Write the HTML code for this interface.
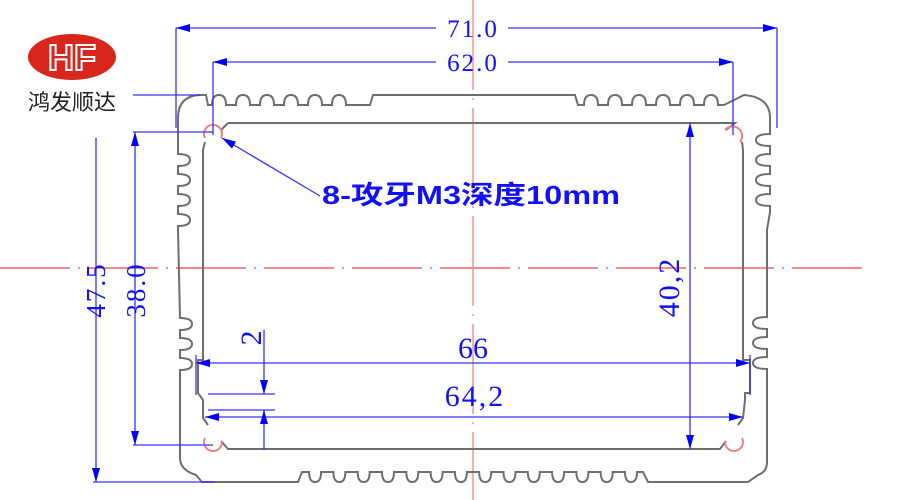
<!DOCTYPE html>
<html><head><meta charset="utf-8"><style>
html,body{margin:0;padding:0;background:#fff;}
svg{display:block;}
</style></head><body>
<svg width="900" height="500" viewBox="0 0 900 500" xmlns="http://www.w3.org/2000/svg">
<defs>
<marker id="a" markerWidth="14" markerHeight="8" refX="14" refY="4" orient="auto-start-reverse" markerUnits="userSpaceOnUse">
<path d="M0,0 L14,4 L0,8 Z" fill="#0000ff"/>
</marker>
</defs>
<rect width="900" height="500" fill="#fff"/>
<line x1="0" y1="268" x2="870" y2="268" stroke="#f26060" stroke-width="1.5" stroke-dasharray="70,8,2,8"/>
<line x1="473" y1="0" x2="473" y2="500" stroke="#f47a7a" stroke-width="1.2" stroke-dasharray="90,8,2,8"/>

<g fill="none" stroke="#6e6e6e" stroke-width="2">
<path d="M178 118 Q178 96 200 95 L206 95 L208 105 h4
q0 -10 7 -10 q7 0 7 10 h10
q0 -10 7 -10 q7 0 7 10 h10
q0 -10 7 -10 q7 0 7 10 h10
q0 -10 7 -10 q7 0 7 10 h10
q0 -10 7 -10 q7 0 7 10 h10
q0 -10 7 -10 q7 0 7 10 h10
L370 105 L373 95 L575 95 L578 105 h6
q0 -10 7 -10 q7 0 7 10 h10
q0 -10 7 -10 q7 0 7 10 h10
q0 -10 7 -10 q7 0 7 10 h10
q0 -10 7 -10 q7 0 7 10 h10
q0 -10 7 -10 q7 0 7 10 h10
q0 -10 7 -10 q7 0 7 10 h6
L744 95 Q770 97 770 118 L770 130
v4 q-14 0 -14 6 q0 6 14 6 v8 q-14 0 -14 6 q0 6 14 6 v8 q-14 0 -14 6 q0 6 14 6 v8 q-14 0 -14 6 q0 6 14 6 v6
L767 230 L767 315 v2 q-14 0 -14 6 q0 6 14 6 v8 q-14 0 -14 6 q0 6 14 6 v8 q-14 0 -14 6 q0 6 14 6 v2
L767 462 Q767 472 758 475 L748 482 L648 482 L643 472
h-6 q0 10 -6 10 q-6 0 -6 -10 h-12.3
q0 10 -6 10 q-6 0 -6 -10 h-12.3
q0 10 -6 10 q-6 0 -6 -10 h-12.3
q0 10 -6 10 q-6 0 -6 -10 h-12.3
q0 10 -6 10 q-6 0 -6 -10 h-12.3
q0 10 -6 10 q-6 0 -6 -10 h-12.3
q0 10 -6 10 q-6 0 -6 -10 h-12.3
q0 10 -6 10 q-6 0 -6 -10 h-12.3
q0 10 -6 10 q-6 0 -6 -10 h-12.3
q0 10 -6 10 q-6 0 -6 -10 h-12.3
q0 10 -6 10 q-6 0 -6 -10 h-12.3
q0 10 -6 10 q-6 0 -6 -10 h-12.3
q0 10 -6 10 q-6 0 -6 -10 h-12.3
q0 10 -6 10 q-6 0 -6 -10
L302 472 L298 482 L202 482 L196 475 Q180 470 180 458 L180 372
v-2 q12 0 12 -6 q0 -6 -12 -6 v-8 q12 0 12 -6 q0 -6 -12 -6 v-8 q12 0 12 -6 q0 -6 -12 -6
L178 230 v-4 q12 0 12 -6 q0 -6 -12 -6 v-8 q12 0 12 -6 q0 -6 -12 -6 v-8 q12 0 12 -6 q0 -6 -12 -6 v-8 q12 0 12 -6 q0 -6 -12 -6 Z"/>
<path d="M228 123 L735 123 L726 130"/>
<path d="M742 142 L743 150 L743 360 L750 360 L750 393 L745 393 L745 400 L743 418 L738 425"/>
<path d="M726 441 L720 449 L228 449 L221 441"/>
<path d="M208 425 L203 418 L203 400 L198 393 L198 360 L203 360 L203 150 L205 142"/>
<path d="M228 123 L221 130"/>
</g>
<g fill="none" stroke-width="2">
<path d="M205 138 A9 9 0 1 1 221 138" stroke="#f08080"/>
<path d="M725 130 A9 9 0 1 1 740 142" stroke="#f08080"/>
<path d="M222 441 A9 9 0 1 1 205 438" stroke="#f08080"/>
<path d="M742 438 A9 9 0 1 1 725 441" stroke="#f08080"/>
</g>

<g stroke="#3333ff" stroke-width="1.3" fill="none">
<line x1="176" y1="28" x2="176" y2="128"/>
<line x1="777" y1="28" x2="777" y2="128"/>
<line x1="176" y1="28" x2="436" y2="28" marker-start="url(#a)"/>
<line x1="508" y1="28" x2="777" y2="28" marker-end="url(#a)"/>
<line x1="213" y1="62" x2="213" y2="135"/>
<line x1="733" y1="62" x2="733" y2="135"/>
<line x1="213" y1="62" x2="436" y2="62" marker-start="url(#a)"/>
<line x1="508" y1="62" x2="733" y2="62" marker-end="url(#a)"/>
<line x1="133" y1="95" x2="200" y2="95"/>
<line x1="133" y1="132" x2="213" y2="132"/>
<line x1="133" y1="445" x2="213" y2="445"/>
<line x1="93" y1="482" x2="215" y2="482"/>
<line x1="96" y1="138" x2="96" y2="482" marker-end="url(#a)"/>
<line x1="135" y1="132" x2="135" y2="445" marker-start="url(#a)" marker-end="url(#a)"/>
<line x1="690" y1="123" x2="690" y2="449" marker-start="url(#a)" marker-end="url(#a)"/>
<line x1="196" y1="355" x2="196" y2="395"/>
<line x1="750" y1="355" x2="750" y2="395"/>
<line x1="196" y1="363" x2="750" y2="363" marker-start="url(#a)" marker-end="url(#a)"/>
<line x1="205" y1="417" x2="743" y2="417" marker-start="url(#a)" marker-end="url(#a)"/>
<line x1="208" y1="394" x2="275" y2="394"/>
<line x1="208" y1="410" x2="275" y2="410"/>
<line x1="264" y1="330" x2="264" y2="394" marker-end="url(#a)"/>
<line x1="264" y1="450" x2="264" y2="410" marker-end="url(#a)"/>
<line x1="320" y1="196" x2="222" y2="138" marker-end="url(#a)"/>
</g>

<g fill="#1010ff" font-family="'Liberation Serif', serif">
<text x="473" y="37" font-size="25" text-anchor="middle" letter-spacing="2">71.0</text>
<text x="473" y="71" font-size="25" text-anchor="middle" letter-spacing="2">62.0</text>
<text x="473" y="358" font-size="30" text-anchor="middle">66</text>
<text x="475" y="406" font-size="30" text-anchor="middle" letter-spacing="2">64,2</text>
<text transform="translate(105,290) rotate(-90)" font-size="27" text-anchor="middle" letter-spacing="2">47.5</text>
<text transform="translate(145,290) rotate(-90)" font-size="27" text-anchor="middle" letter-spacing="2">38.0</text>
<text transform="translate(679,287) rotate(-90)" font-size="30" text-anchor="middle" letter-spacing="2">40,2</text>
<text transform="translate(261,338) rotate(-90)" font-size="30" text-anchor="middle">2</text>
</g>
<text x="322" y="204" fill="#1010ff" font-size="26" font-weight="bold" textLength="298" lengthAdjust="spacingAndGlyphs" font-family="'Liberation Sans','Noto Sans CJK SC',sans-serif">8-攻牙M3深度10mm</text>

<ellipse cx="72" cy="57" rx="44" ry="23" fill="#d9261c"/>
<text x="72" y="70" fill="none" stroke="#fff" stroke-width="2" font-size="36" font-weight="bold" text-anchor="middle" font-family="'Liberation Sans',sans-serif">HF</text>
<text x="72" y="110" fill="#222" font-size="22" text-anchor="middle" font-family="'Liberation Sans','Noto Sans CJK SC',sans-serif">鸿发顺达</text>
</svg>
</body></html>
